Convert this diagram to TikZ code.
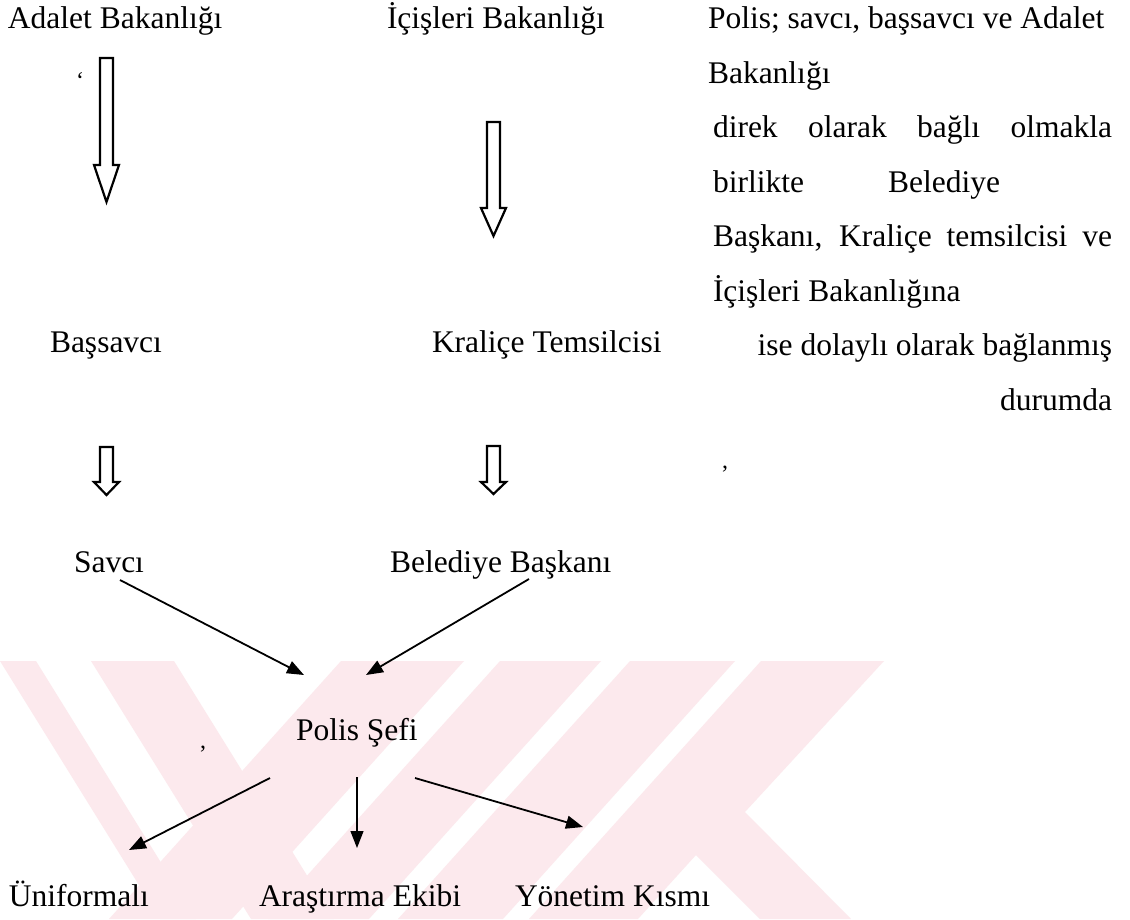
\documentclass[tikz,border=0pt]{standalone}
\usepackage{fontspec}
\setmainfont{Liberation Serif}
\usetikzlibrary{arrows.meta}
\definecolor{wm}{RGB}{252,233,237}
\begin{document}
\begin{tikzpicture}[x=1pt,y=-1pt,
  every node/.style={inner sep=0pt, outer sep=0pt, font=\fontsize{31.5}{36}\selectfont},
  lbl/.style={anchor=base west},
  blockarrow/.style={draw=black, line width=2.2pt, fill=white, line join=miter},
  conn/.style={draw=black, line width=1.8pt, -{Triangle[length=17pt,width=13pt]}},
  speck/.style={font=\fontsize{24}{28}\selectfont}]
\useasboundingbox (0,0) rectangle (1130,919);
\fill[white] (0,0) rectangle (1130,919);
% watermark
\begin{scope}
\clip (0,661) rectangle (884,919);
\fill[wm] (0,661) -- (36,661) -- (196,919) -- (160,919) -- cycle;
\fill[wm] (91,661) -- (174,661) -- (334,919) -- (251,919) -- cycle;
\fill[wm] (341,661) -- (464,661) -- (232,919) -- (109,919) -- cycle;
\fill[wm] (500,661) -- (601,661) -- (369,919) -- (268,919) -- cycle;
\fill[wm] (630,661) -- (735,661) -- (503,919) -- (398,919) -- cycle;
\fill[wm] (761,661) -- (884,661) -- (745,812) -- (851,919) -- (760,919) -- (696,855) -- (638,919) -- (529,919) -- cycle;
\end{scope}
% texts
\node[lbl] (adalet) at (8,28) {Adalet Bakanlığı};
\node[lbl] (icisleri) at (387,28) {İçişleri Bakanlığı};
\node[lbl] (p1) at (708,28) {Polis; savcı, başsavcı ve Adalet};
\node[lbl] (p2) at (708,83) {Bakanlığı};
\node[lbl] (p3) at (713,137) {\makebox[399pt][s]{direk olarak bağlı olmakla}};
\node[lbl] (p4) at (713,192) {\makebox[287pt][s]{birlikte Belediye}};
\node[lbl] (p5) at (713,246) {\makebox[399pt][s]{Başkanı, Kraliçe temsilcisi ve}};
\node[lbl] (p6) at (713,301) {İçişleri Bakanlığına};
\node[anchor=base east] (p7) at (1112,355) {ise dolaylı olarak bağlanmış};
\node[anchor=base east] (p8) at (1112,410) {durumda};
\node[lbl] (bassavci) at (50,352) {Başsavcı};
\node[lbl] (kralice) at (432,352) {Kraliçe Temsilcisi};
\node[lbl] (savci) at (74,572) {Savcı};
\node[lbl] (belediye) at (390,572) {Belediye Başkanı};
\node[lbl] (polis) at (296,740) {Polis Şefi};
\node[lbl] (uni) at (9,906) {Üniformalı};
\node[lbl] (aras) at (259,906) {Araştırma Ekibi};
\node[lbl] (yon) at (515,906) {Yönetim Kısmı};
\node[speck, anchor=base] (m1) at (80,88) {`};
\node[speck, anchor=base] (m2) at (725,468) {,};
\node[speck, anchor=base] (m3) at (203,748) {,};
% block arrows
\draw[blockarrow] (100,58) -- (113,58) -- (113,165) -- (119,165) -- (106.5,202) -- (94,165) -- (100,165) -- cycle;
\draw[blockarrow] (487,122) -- (500,122) -- (500,208) -- (506,208) -- (493.5,236) -- (481,208) -- (487,208) -- cycle;
\draw[blockarrow] (100,447) -- (113,447) -- (113,482) -- (119,482) -- (106.5,495) -- (94,482) -- (100,482) -- cycle;
\draw[blockarrow] (487,446) -- (500,446) -- (500,482) -- (506,482) -- (493.5,494) -- (481,482) -- (487,482) -- cycle;
% connectors
\coordinate (s1) at (120,580); \coordinate (t1) at (304,675);
\coordinate (s2) at (529,579); \coordinate (t2) at (366,675);
\coordinate (s3) at (270,778); \coordinate (t3) at (129,850);
\coordinate (s4) at (357,777); \coordinate (t4) at (357,848);
\coordinate (s5) at (415,778); \coordinate (t5) at (583,827);
\draw[conn] (s1) -- (t1);
\draw[conn] (s2) -- (t2);
\draw[conn] (s3) -- (t3);
\draw[conn, line width=1.2pt] (s4) -- (t4);
\draw[conn] (s5) -- (t5);
\end{tikzpicture}
\end{document}
